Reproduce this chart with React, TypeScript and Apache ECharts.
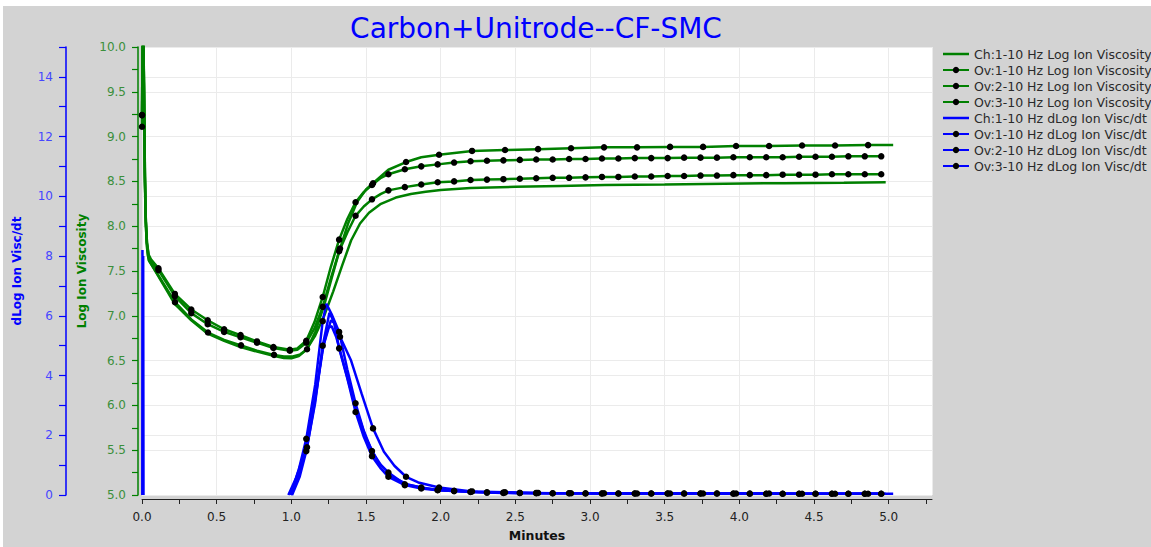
import React, { useEffect, useRef } from 'react';
import * as echarts from 'echarts';

type Pt = [number, number];

const titleText = 'Carbon+Unitrode--CF-SMC';
const xName = 'Minutes';
const yGreenName = 'Log Ion Viscosity';
const yBlueName = 'dLog Ion Visc/dt';

const xTickValues = [0, 0.25, 0.5, 0.75, 1, 1.25, 1.5, 1.75, 2, 2.25, 2.5, 2.75, 3, 3.25, 3.5, 3.75, 4, 4.25, 4.5, 4.75, 5, 5.25];
const xLabelValues = [0, 0.5, 1, 1.5, 2, 2.5, 3, 3.5, 4, 4.5, 5];

const legendNames = [
  'Ch:1-10 Hz Log Ion Viscosity',
  'Ov:1-10 Hz Log Ion Viscosity',
  'Ov:2-10 Hz Log Ion Viscosity',
  'Ov:3-10 Hz Log Ion Viscosity',
  'Ch:1-10 Hz dLog Ion Visc/dt',
  'Ov:1-10 Hz dLog Ion Visc/dt',
  'Ov:2-10 Hz dLog Ion Visc/dt',
  'Ov:3-10 Hz dLog Ion Visc/dt',
];

// sample times of the marked points
const tDense = [0, 0.11, 0.22, 0.33, 0.44, 0.55, 0.66, 0.77, 0.88, 0.99, 1.10, 1.21, 1.32, 1.43, 1.54, 1.65, 1.76, 1.87, 1.98, 2.09, 2.20, 2.31, 2.42, 2.53, 2.64, 2.75, 2.86, 2.97, 3.08, 3.19, 3.30, 3.41, 3.52, 3.63, 3.74, 3.85, 3.96, 4.07, 4.18, 4.29, 4.40, 4.51, 4.62, 4.73, 4.84, 4.95];
const tSparse = [0, 0.221, 0.442, 0.663, 0.884, 1.105, 1.326, 1.547, 1.768, 1.989, 2.21, 2.431, 2.652, 2.873, 3.094, 3.315, 3.536, 3.757, 3.978, 4.199, 4.42, 4.641, 4.862];

// ---- Log Ion Viscosity ----
const ovLog1 = [9.24, 7.152, 6.813, 6.67, 6.564, 6.626, 7.75, 8.48, 8.716, 8.797, 8.84, 8.85, 8.86, 8.87, 8.88, 8.88, 8.885, 8.885, 8.895, 8.895, 8.9, 8.9, 8.905];
const ovLog1Extra: Pt[] = [[0.006, 10.5], [0.014, 9.5], [0.02, 8.5], [0.026, 8.0], [0.034, 7.75], [0.045, 7.62], [0.11, 7.45], [0.33, 6.96], [0.55, 6.73], [0.77, 6.61], [0.95, 6.545], [1.01, 6.545], [1.06, 6.57], [1.16, 6.82], [1.22, 7.12], [1.27, 7.42], [1.38, 8.03], [1.44, 8.27], [1.5, 8.41], [1.65, 8.63], [1.87, 8.77], [5.03, 8.905]];

const ovLog2 = [9.24, 7.53, 7.244, 7.07, 6.95, 6.85, 6.785, 6.714, 6.652, 6.62, 6.722, 7.21, 7.85, 8.267, 8.46, 8.58, 8.635, 8.668, 8.69, 8.71, 8.725, 8.73, 8.735, 8.74, 8.745, 8.745, 8.75, 8.75, 8.755, 8.755, 8.76, 8.76, 8.76, 8.765, 8.765, 8.765, 8.77, 8.77, 8.77, 8.77, 8.775, 8.775, 8.775, 8.78, 8.78, 8.78];
const ovLog2Extra: Pt[] = [[0.006, 10.5], [0.013, 9.6], [0.019, 8.6], [0.025, 8.1], [0.033, 7.82], [0.045, 7.68], [0.06, 7.63], [1.04, 6.635], [1.155, 6.93], [1.265, 7.55], [1.375, 8.08], [1.485, 8.38], [1.6, 8.54]];

const ovLog3 = [9.11, 7.51, 7.22, 7.03, 6.906, 6.82, 6.76, 6.70, 6.64, 6.61, 6.70, 7.10, 7.72, 8.116, 8.30, 8.40, 8.436, 8.466, 8.49, 8.50, 8.515, 8.52, 8.525, 8.53, 8.535, 8.54, 8.54, 8.545, 8.55, 8.55, 8.555, 8.555, 8.56, 8.56, 8.565, 8.565, 8.57, 8.57, 8.57, 8.575, 8.575, 8.575, 8.58, 8.58, 8.58, 8.58];
const ovLog3Extra: Pt[] = [[0.007, 10.5], [0.014, 9.5], [0.02, 8.55], [0.026, 8.05], [0.034, 7.8], [0.045, 7.66], [0.06, 7.61], [1.04, 6.62], [1.155, 6.86], [1.265, 7.42], [1.375, 7.93], [1.485, 8.22], [1.6, 8.36]];

const chLog: Pt[] = [[0.004, 10.5], [0.012, 9.6], [0.018, 8.6], [0.024, 8.1], [0.031, 7.83], [0.04, 7.67], [0.05, 7.61], [0.11, 7.44], [0.22, 7.13], [0.33, 6.95], [0.44, 6.8], [0.55, 6.72], [0.66, 6.65], [0.77, 6.6], [0.88, 6.555], [0.95, 6.53], [1.0, 6.525], [1.05, 6.55], [1.1, 6.62], [1.16, 6.78], [1.22, 7.0], [1.28, 7.27], [1.34, 7.56], [1.4, 7.84], [1.46, 8.03], [1.52, 8.15], [1.6, 8.25], [1.7, 8.32], [1.8, 8.36], [1.9, 8.385], [2.0, 8.405], [2.2, 8.425], [2.5, 8.44], [2.8, 8.45], [3.1, 8.46], [3.5, 8.465], [3.9, 8.475], [4.3, 8.48], [4.7, 8.485], [4.98, 8.49]];

// ---- dLog Ion Visc/dt ----
const ovD1 = [null, null, null, null, null, 1.6, 5.3, 2.23, 0.61, 0.25, 0.12, 0.09, 0.07, 0.06, 0.06, 0.05, 0.05, 0.05, 0.05, 0.05, 0.04, 0.04, 0.04];
const ovD1Extra: Pt[] = [[1.0, 0], [1.05, 0.7], [1.16, 3.2], [1.215, 5.0], [1.265, 5.85], [1.29, 5.75], [1.4, 4.5], [1.47, 3.4], [1.62, 1.45], [1.69, 0.98], [1.85, 0.42], [5.03, 0.04]];

const ovD2 = [null, null, null, null, null, null, null, null, null, null, 1.88, 5.82, 5.46, 3.07, 1.47, 0.75, 0.36, 0.25, 0.17, 0.14, 0.11, 0.09, 0.08, 0.07, 0.07, 0.06, 0.06, 0.06, 0.05, 0.05, 0.05, 0.05, 0.05, 0.05, 0.05, 0.05, 0.04, 0.04, 0.04, 0.04, 0.04, 0.04, 0.04, 0.04, 0.04, 0.04];
const ovD2Extra: Pt[] = [[0.995, 0], [1.05, 0.85], [1.16, 3.7], [1.235, 6.4], [1.27, 6.05], [1.375, 4.2], [1.485, 2.15], [1.6, 1.0]];

const ovD3 = [null, null, null, null, null, null, null, null, null, null, 1.47, 5.0, 4.91, 2.78, 1.30, 0.61, 0.33, 0.22, 0.16, 0.13, 0.10, 0.08, 0.07, 0.07, 0.06, 0.06, 0.06, 0.05, 0.05, 0.05, 0.05, 0.05, 0.05, 0.05, 0.05, 0.05, 0.05, 0.05, 0.04, 0.04, 0.04, 0.04, 0.04, 0.04, 0.04, 0.04];
const ovD3Extra: Pt[] = [[1.005, 0], [1.055, 0.6], [1.16, 3.1], [1.255, 6.1], [1.285, 5.8], [1.375, 3.9], [1.485, 1.95], [1.6, 0.88]];

const chDSpike: Pt[] = [[0.002, 0], [0.003, 8.2], [0.005, 0.4], [0.008, 8.0], [0.01, 0]];
const chDPeak: Pt[] = [[0.98, 0], [1.03, 0.55], [1.1, 1.6], [1.16, 3.3], [1.21, 4.9], [1.245, 5.6], [1.27, 5.65], [1.3, 5.3], [1.35, 4.4], [1.42, 3.1], [1.5, 1.9], [1.58, 1.1], [1.68, 0.6], [1.78, 0.35], [1.9, 0.22], [2.05, 0.14], [2.25, 0.1], [2.5, 0.07], [3.0, 0.06], [3.5, 0.05], [4.0, 0.05], [4.5, 0.04], [4.98, 0.04]];

const GREEN = '#008000';
const BLUE = '#0000ff';
const FONT = 'DejaVu Sans';
const LINE_ICON = 'path://M0,0H26V2.5H0Z';

function build(ts: number[], vals: (number | null)[], extra: Pt[]) {
  const pts: { value: Pt; symbol: string }[] = [];
  vals.forEach((v, i) => {
    if (v !== null) pts.push({ value: [ts[i], v], symbol: 'circle' });
  });
  extra.forEach((p) => pts.push({ value: p, symbol: 'none' }));
  pts.sort((a, b) => a.value[0] - b.value[0]);
  return pts;
}

function lineSeries(name: string, data: any[], color: string, yAxisIndex: number, marked: boolean) {
  return {
    name,
    type: 'line',
    xAxisIndex: 0,
    yAxisIndex,
    data,
    symbol: marked ? 'circle' : 'none',
    symbolSize: 6.5,
    showSymbol: marked,
    showAllSymbol: true,
    connectNulls: false,
    clip: true,
    lineStyle: { color, width: 2.5 },
    itemStyle: { color: marked ? '#000' : color },
    emphasis: { disabled: true },
    silent: true,
  };
}

const half = (v: number) => Math.abs(v * 2 - Math.round(v * 2)) < 1e-6;

export default function App() {
  const ref = useRef<HTMLDivElement>(null);
  useEffect(() => {
    if (!ref.current) return;
    const chart = echarts.init(ref.current, undefined, { renderer: 'svg' });
    const option: any = {
      animation: false,
      backgroundColor: '#d3d3d3',
      textStyle: { fontFamily: FONT },
      graphic: [
        {
          type: 'text',
          x: 533,
          y: 22,
          style: {
            text: titleText,
            fill: BLUE,
            font: `28px "${FONT}"`,
            textAlign: 'center',
            textVerticalAlign: 'middle',
          },
        },
      ],
      grid: { left: 137, width: 792, top: 41, height: 453, show: true, backgroundColor: '#ffffff', borderWidth: 0 },
      legend: {
        orient: 'vertical',
        left: 939,
        top: 40,
        padding: 0,
        itemWidth: 26,
        itemHeight: 8,
        itemGap: 0,
        selectedMode: false,
        data: legendNames.map((n) => (n.startsWith('Ch') ? { name: n, icon: LINE_ICON } : { name: n })),
        textStyle: { fontFamily: FONT, fontSize: 12.5, color: '#2a2a2a', lineHeight: 16 },
      },
      xAxis: [
        {
          type: 'value',
          min: 0,
          max: 5.29,
          interval: 0.25,
          position: 'bottom',
          offset: 4,
          axisLine: { show: true, onZero: false, lineStyle: { color: '#222', width: 1 } },
          axisTick: { show: true, customValues: xTickValues, length: 5, lineStyle: { color: '#222' } },
          axisLabel: {
            customValues: xLabelValues,
            formatter: (v: number) => (half(v) ? v.toFixed(1) : ''),
            margin: 12,
            fontSize: 12,
            color: '#222',
            fontFamily: FONT,
          },
          splitLine: { show: false },
          name: xName,
          nameLocation: 'middle',
          nameGap: 30,
          nameTextStyle: { fontWeight: 'bold', fontSize: 12.5, color: '#111', fontFamily: FONT },
        },
        {
          type: 'value',
          min: 0,
          max: 5.29,
          interval: 0.5,
          position: 'bottom',
          axisLine: { show: false, onZero: false },
          axisTick: { show: false },
          axisLabel: { show: false },
          splitLine: { show: true, lineStyle: { color: '#ebebeb', width: 1 } },
        },
      ],
      yAxis: [
        {
          type: 'value',
          min: 5,
          max: 10,
          interval: 0.5,
          position: 'left',
          offset: 4,
          axisLine: { show: true, onZero: false, lineStyle: { color: GREEN, width: 1.5 } },
          axisTick: { show: true, length: 6, lineStyle: { color: GREEN, width: 1.2 } },
          minorTick: { show: true, splitNumber: 2, length: 6, lineStyle: { color: GREEN, width: 1.2 } },
          axisLabel: { formatter: (v: number) => v.toFixed(1), color: '#3b8f3b', fontSize: 12, margin: 12, fontFamily: FONT },
          splitLine: { show: true, lineStyle: { color: '#ebebeb', width: 1 } },
          name: yGreenName,
          nameLocation: 'middle',
          nameGap: 49,
          nameTextStyle: { color: GREEN, fontWeight: 'bold', fontSize: 12, fontFamily: FONT },
        },
        {
          type: 'value',
          min: 0,
          max: 15,
          interval: 1,
          position: 'left',
          offset: 76,
          axisLine: { show: true, onZero: false, lineStyle: { color: BLUE, width: 1.5 } },
          axisTick: { show: true, length: 7, lineStyle: { color: BLUE, width: 1.2 } },
          axisLabel: {
            formatter: (v: number) => (Math.round(v) % 2 === 0 && v < 15 ? String(v) : ''),
            color: '#4646ff',
            fontSize: 12,
            margin: 13,
            fontFamily: FONT,
          },
          splitLine: { show: false },
          name: yBlueName,
          nameLocation: 'middle',
          nameGap: 43,
          nameTextStyle: { color: BLUE, fontWeight: 'bold', fontSize: 12, fontFamily: FONT },
        },
        {
          type: 'value',
          min: 0,
          max: 15,
          interval: 2,
          position: 'left',
          axisLine: { show: false, onZero: false },
          axisTick: { show: false },
          axisLabel: { show: false },
          splitLine: { show: true, lineStyle: { color: '#ebebeb', width: 1 } },
        },
      ],
      series: [
        lineSeries(legendNames[0], chLog.map((p) => ({ value: p })), GREEN, 0, false),
        lineSeries(legendNames[1], build(tSparse, ovLog1, ovLog1Extra), GREEN, 0, true),
        lineSeries(legendNames[2], build(tDense, ovLog2, ovLog2Extra), GREEN, 0, true),
        lineSeries(legendNames[3], build(tDense, ovLog3, ovLog3Extra), GREEN, 0, true),
        lineSeries(
          legendNames[4],
          [...chDSpike.map((p) => ({ value: p })), { value: [0.5, '-'] }, ...chDPeak.map((p) => ({ value: p }))],
          BLUE,
          1,
          false
        ),
        lineSeries(legendNames[5], build(tSparse, ovD1, ovD1Extra), BLUE, 1, true),
        lineSeries(legendNames[6], build(tDense, ovD2, ovD2Extra), BLUE, 1, true),
        lineSeries(legendNames[7], build(tDense, ovD3, ovD3Extra), BLUE, 1, true),
      ],
    };
    chart.setOption(option);
    return () => chart.dispose();
  }, []);
  return <div ref={ref} style={{ position: 'absolute', left: 3, top: 6, width: 1148, height: 541 }} />;
}
